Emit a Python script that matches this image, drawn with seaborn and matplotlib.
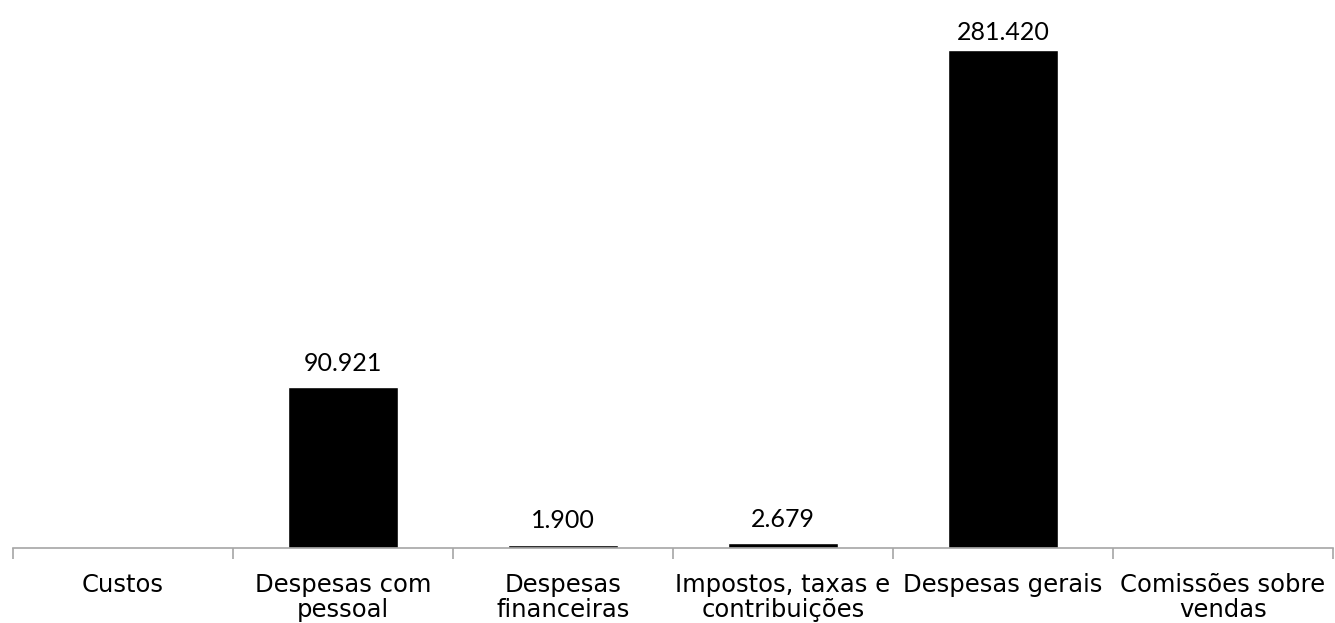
import numpy as np
import pandas as pd
import matplotlib
matplotlib.use('Agg')
import matplotlib.pyplot as plt
import seaborn as sns

categories = ['Custos', 'Despesas com\npessoal', 'Despesas\nfinanceiras',
              'Impostos, taxas e\ncontribuições', 'Despesas gerais',
              'Comissões sobre\nvendas']
values = [0, 90921, 1900, 2679, 281420, 0]


def fmt_br(v):
    return f'{v:,.0f}'.replace(',', '.')


def main():
    sns.set_theme(style='white')
    plt.rcParams['font.family'] = ['DejaVu Sans']

    df = pd.DataFrame({'categoria': categories, 'valor': values})

    fig = plt.figure(figsize=(13.35, 6.23), dpi=100)
    ax = fig.add_axes([13 / 1335, 75 / 623, 1320 / 1335, 531 / 623])

    sns.barplot(data=df, x='categoria', y='valor', color='black',
                width=0.5, saturation=1, ax=ax)

    labels = [fmt_br(v) if v > 0 else '' for v in values]
    texts = ax.bar_label(ax.containers[0], labels=labels, padding=9,
                         fontsize=18, family='Lato', color='black')
    # the tallest label gets pushed down to stay inside the plot area
    for t, v in zip(texts, values):
        if v == max(values):
            t.xyann = (0, 4)

    ax.set_ylim(0, 300000)
    ax.set_xlim(-0.5, len(categories) - 0.5)
    ax.set_yticks([])
    ax.set_xlabel('')
    ax.set_ylabel('')

    for side in ['top', 'right', 'left']:
        ax.spines[side].set_visible(False)
    ax.spines['bottom'].set_color('#a6a6a6')
    ax.spines['bottom'].set_linewidth(1.2)

    ax.set_xticks(np.arange(-0.5, len(categories)), minor=True)
    ax.tick_params(axis='x', which='minor', length=8, color='#a6a6a6',
                   width=1.2, bottom=True)
    ax.tick_params(axis='x', which='major', length=0, pad=18,
                   labelsize=17.5, labelcolor='black')
    for lbl in ax.get_xticklabels():
        lbl.set_linespacing(1.05)

    fig.savefig('out.png', dpi=100, facecolor='white')
    plt.close(fig)


if __name__ == '__main__':
    main()
